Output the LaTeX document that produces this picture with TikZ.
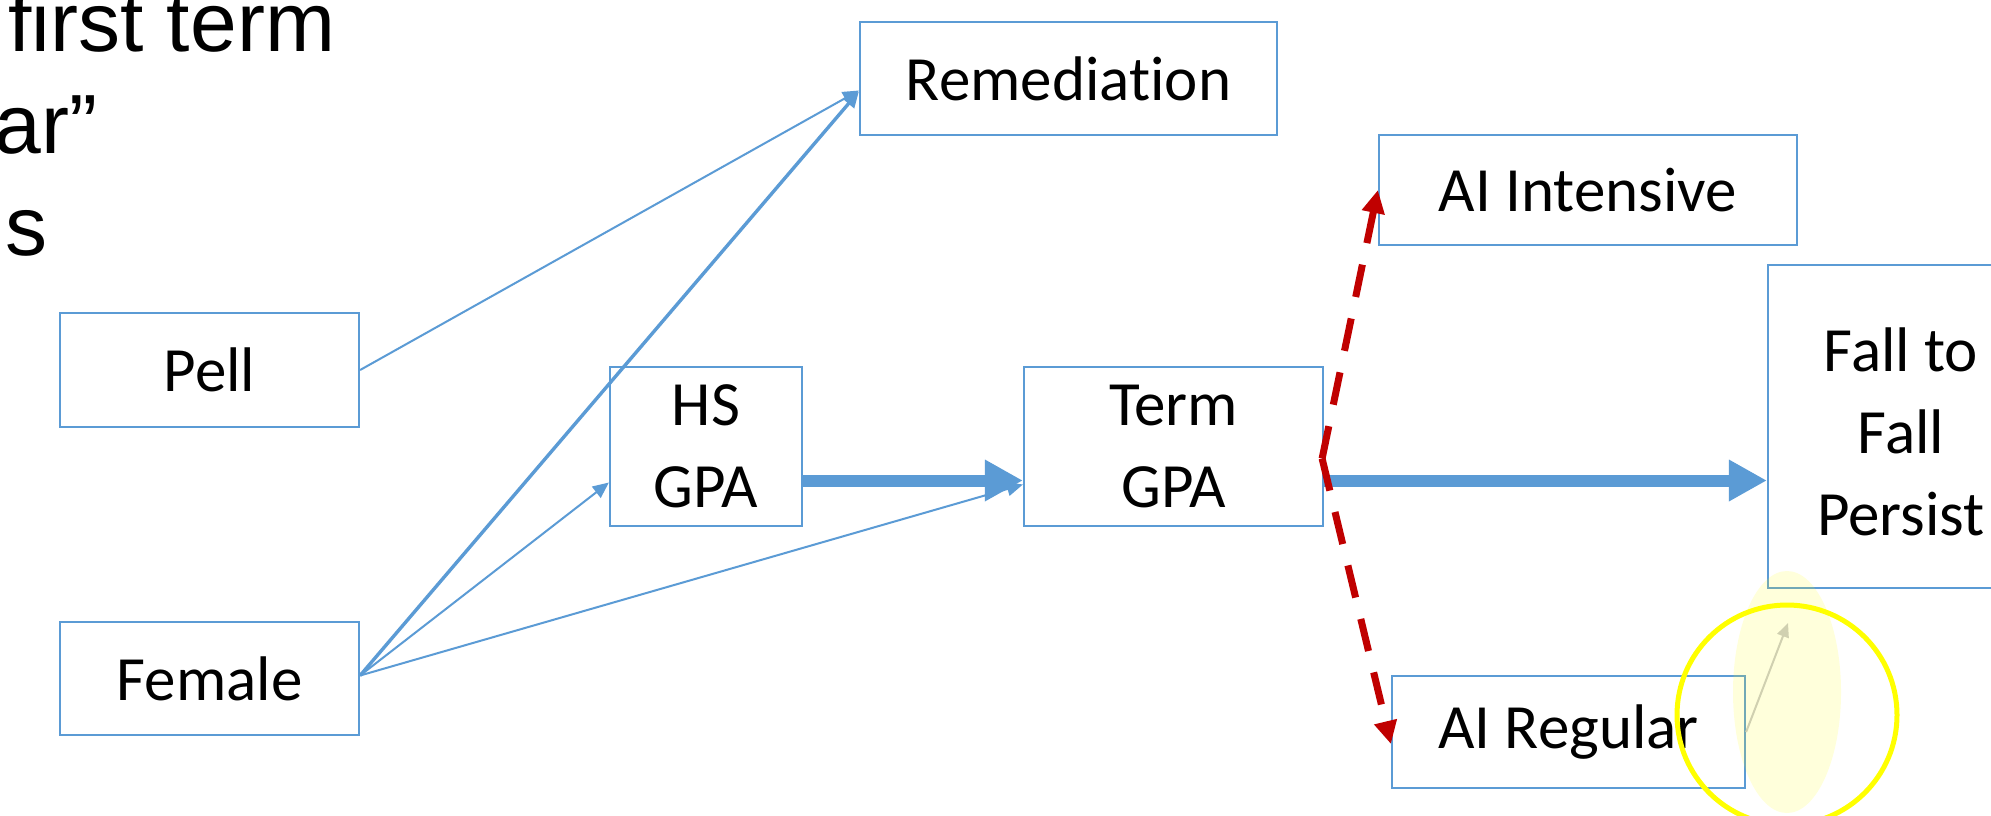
\documentclass[tikz,border=0pt]{standalone}
\usepackage{fontspec}
\setmainfont{Carlito}[Ligatures=NoCommon]
\newfontfamily\arialfont{Liberation Sans}
\usetikzlibrary{arrows.meta,calc}
\definecolor{bblue}{RGB}{91,155,213}
\definecolor{dred}{RGB}{192,0,0}
\definecolor{hlyellow}{RGB}{255,255,0}
\definecolor{greyarr}{RGB}{208,208,176}
\begin{document}
\begin{tikzpicture}[x=0.5pt,y=-0.5pt,
  boxtext/.style={inner sep=0pt, align=center, font=\fontsize{31.5}{41}\selectfont},
  box/.style={boxtext, draw=bblue, line width=1.1pt},
  thinarr/.style={draw=bblue, line width=1pt, -{Triangle[length=8pt,width=7pt]}},
  medarr/.style={draw=bblue, line width=1.7pt, -{Triangle[length=8pt,width=7pt]}},
  thickarr/.style={draw=bblue, line width=6pt, -{Triangle[length=19pt,width=19.5pt]}},
  reddash/.style={draw=dred, line width=3.5pt, dash pattern=on 16.5pt off 11pt,
              -{Triangle[length=11.5pt,width=11pt]}},
  headtext/.style={inner sep=0pt, font=\arialfont\fontsize{42}{50}\selectfont}
]
\useasboundingbox (0,0) rectangle (1991,815);
\clip (0,0) rectangle (1991,815);
\fill[white] (0,0) rectangle (1991,815);

% top-left partial title text
\node[headtext, anchor=base west] (t1) at (8,51) {first term};
\node[headtext, anchor=base east] (t2) at (98,153) {ar”};
\node[headtext, anchor=base east] (t3) at (48,255) {s};

% boxes
\node[box, minimum width=208.5pt, minimum height=56.5pt] (rem) at (1068.5,78.5) {Remediation};
\node[box, minimum width=209pt, minimum height=55pt] (aiint) at (1588,190) {AI Intensive};
\node[box, minimum width=133pt, minimum height=161.5pt] (fall) at (1901,426.5) {};
\node[boxtext] (falltext) at ($(fall.center)+(0,5)$) {Fall to\\Fall\\Persist};
\node[box, minimum width=149.5pt, minimum height=57pt] (pell) at (209.5,370) {Pell};
\node[box, minimum width=96pt, minimum height=79.5pt] (hs) at (706,446.5) {HS\\GPA};
\node[box, minimum width=149.5pt, minimum height=79.5pt] (term) at (1173.5,446.5) {Term\\GPA};
\node[box, minimum width=149.5pt, minimum height=56.5pt] (female) at (209.5,678.5) {Female};
\node[box, minimum width=176.5pt, minimum height=56pt] (aireg) at (1568.5,732) {AI Regular};

% thin connectors
\draw[thinarr] (pell.east) -- ($(rem.west)+(0,12)$);
\draw[medarr] ($(female.east)+(0,-3)$) -- ($(rem.west)+(0,13)$);
\draw[thinarr] ($(female.east)+(0,-3)$) -- ($(hs.west)+(0,36)$);
\draw[thinarr] ($(female.east)+(0,-3)$) -- ($(term.west)+(0,38)$);

% thick connectors
\coordinate (h1) at ($(hs.east)+(0,34)$);
\draw[thickarr] (h1) -- (h1 -| term.west);
\coordinate (g1) at ($(term.east)+(0,34)$);
\draw[thickarr] (g1) -- (g1 -| fall.west);

% red dashed connectors
\coordinate (rj) at ($(term.east)+(-2,12)$);
\draw[reddash] (rj) -- (aiint.west);
\draw[reddash] (rj) -- ($(aireg.west)+(0,12)$);

% highlight annotation
\fill[hlyellow, opacity=0.14] (1787,692) ellipse [x radius=54, y radius=121];
\coordinate (gt) at (1788,623);
\draw[draw=greyarr, line width=1pt, -{Triangle[length=7pt,width=6pt]}] (aireg.east) -- (gt);
\draw[hlyellow, line width=2.5pt] (1787,715) circle [radius=110];
\end{tikzpicture}
\end{document}
